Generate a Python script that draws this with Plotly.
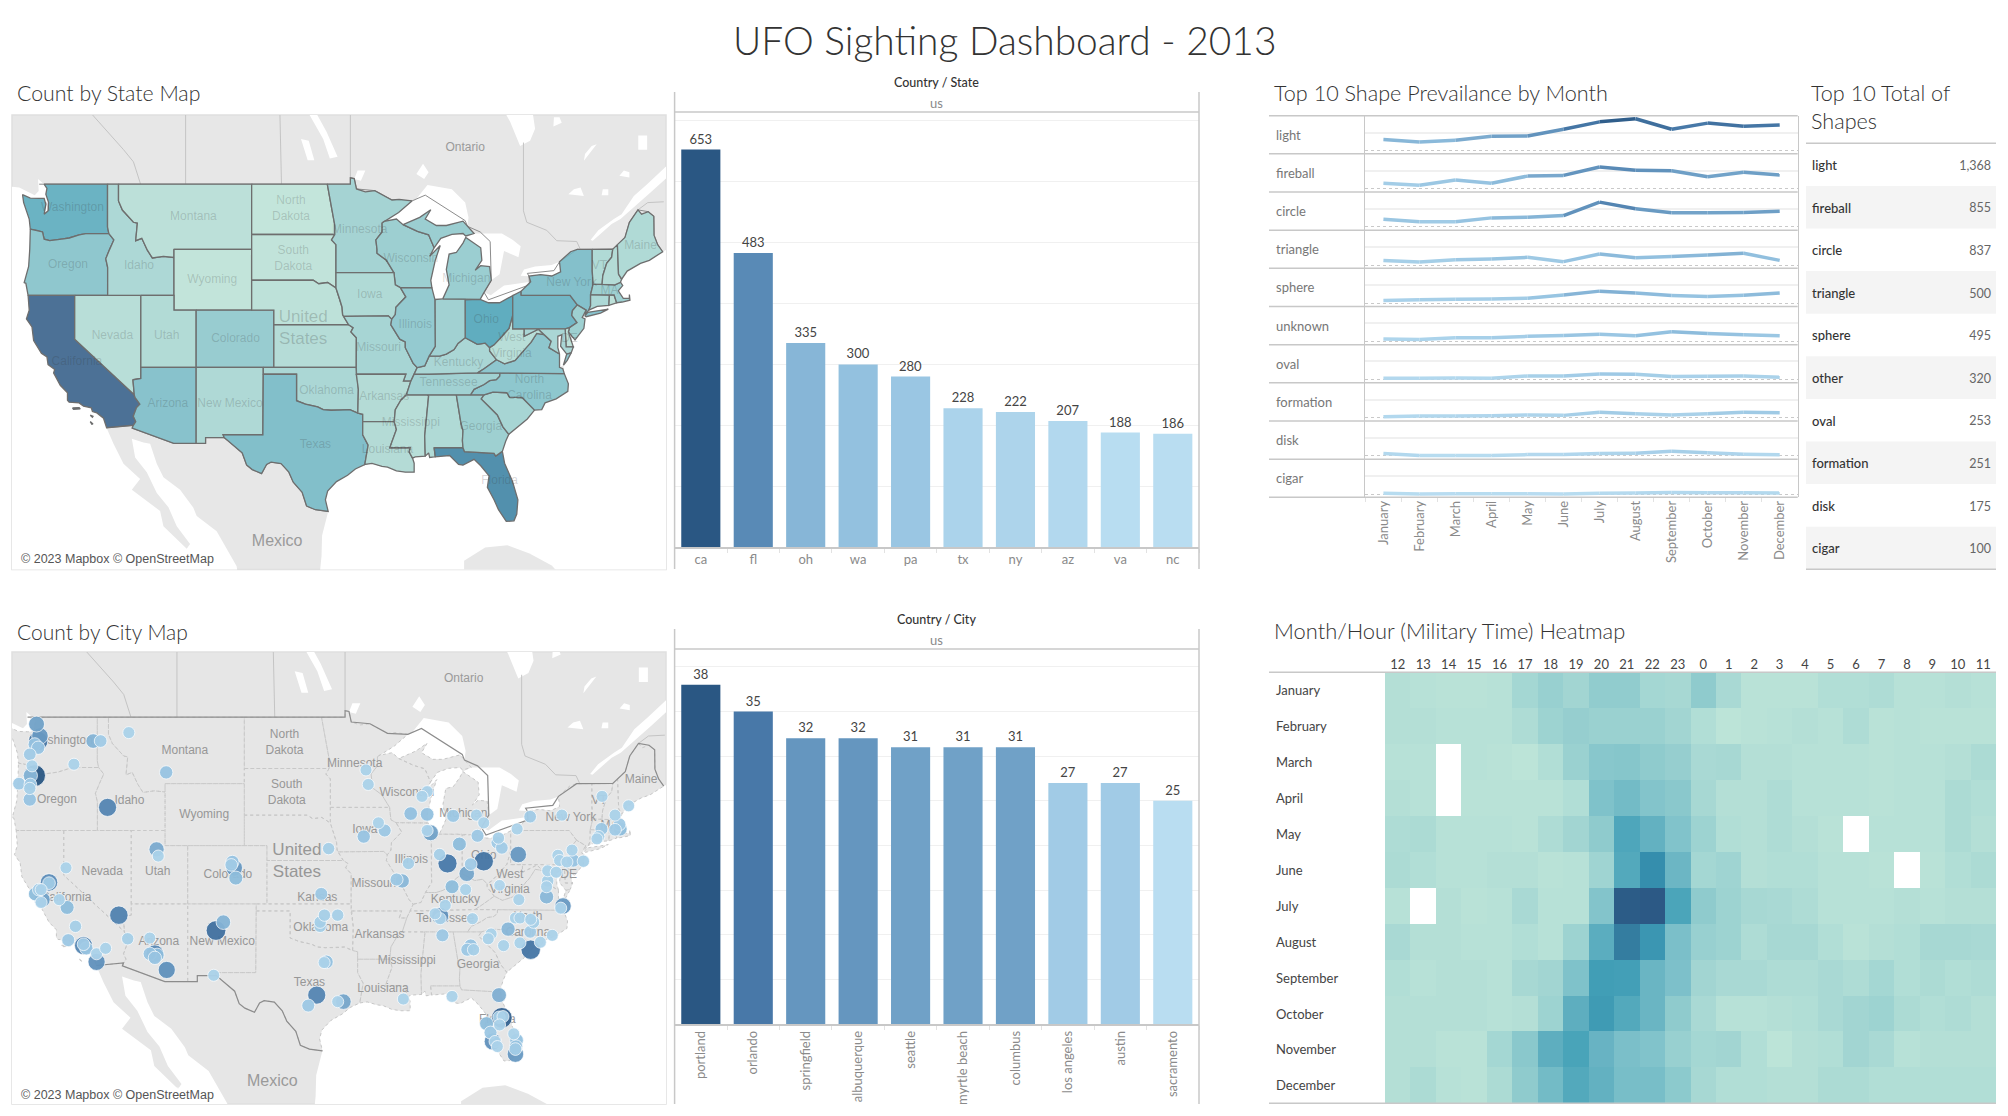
from math import log, tan, pi, radians, degrees

import plotly.graph_objects as go
from plotly.colors import sample_colorscale

W, H = 2008, 1116

# bars
state_names = ["ca", "fl", "oh", "wa", "pa", "tx", "ny", "az", "va", "nc"]
state_totals = [653, 483, 335, 300, 280, 228, 222, 207, 188, 186]
city_names = ["portland", "orlando", "springfield", "albuquerque", "seattle", "myrtle beach", "columbus",
              "los angeles", "austin", "sacramento"]
city_totals = [38, 35, 32, 32, 31, 31, 31, 27, 27, 25]

# shape lines
months = ["January", "February", "March", "April", "May", "June", "July", "August", "September", "October",
          "November", "December"]
shape_names = ["light", "fireball", "circle", "triangle", "sphere", "unknown", "oval", "formation", "disk", "cigar"]
shape_months = [
    [61, 48, 57, 80, 81, 118, 159, 176, 118, 152, 135, 142],
    [30, 19, 48, 31, 70, 74, 120, 102, 100, 67, 91, 76],
    [43, 28, 28, 50, 54, 63, 137, 100, 78, 78, 80, 87],
    [26, 17, 30, 33, 43, 19, 61, 41, 48, 56, 65, 26],
    [15, 20, 22, 24, 28, 46, 67, 56, 43, 37, 44, 56],
    [13, 11, 20, 20, 28, 33, 39, 31, 54, 44, 37, 31],
    [7, 7, 9, 7, 20, 20, 31, 30, 17, 19, 20, 13],
    [6, 9, 9, 11, 15, 13, 30, 22, 15, 22, 30, 28],
    [13, 2, 2, 2, 7, 7, 13, 15, 26, 17, 9, 6],
    [4, 0, 2, 2, 2, 0, 4, 6, 9, 7, 7, 6],
]

# table
table_names = ["light", "fireball", "circle", "triangle", "sphere", "other", "oval", "formation", "disk", "cigar"]
table_totals = ["1,368", "855", "837", "500", "495", "320", "253", "251", "175", "100"]

# heatmap, None where the reference has no cell
hours = ["12", "13", "14", "15", "16", "17", "18", "19", "20", "21", "22", "23", "0", "1", "2", "3", "4", "5", "6",
         "7", "8", "9", "10", "11"]
heat = [
    [6, 5, 4, 4, 5, 12, 17, 13, 20, 20, 12, 11, 21, 10, 4, 4, 4, 7, 7, 8, 5, 5, 6, 5],
    [6, 6, 5, 5, 5, 8, 15, 18, 16, 16, 16, 13, 7, 3, 4, 5, 6, 5, 8, 4, 5, 4, 4, 4],
    [5, 5, None, 5, 4, 2, 7, 16, 24, 25, 21, 18, 10, 11, 6, 6, 5, 5, 5, 4, 5, 5, 6, 9],
    [6, 5, None, 4, 4, 4, 4, 7, 28, 33, 26, 23, 11, 6, 6, 8, 5, 5, 5, 4, 5, 5, 9, 7],
    [8, 9, 5, 5, 5, 4, 8, 13, 21, 48, 40, 27, 15, 7, 6, 8, 6, 4, None, 5, 5, 5, 9, 6],
    [9, 7, 5, 5, 6, 6, 4, 5, 14, 46, 64, 36, 12, 14, 6, 7, 7, 5, 5, 4, None, 4, 7, 9],
    [5, None, 6, 4, 5, 10, 5, 5, 26, 98, 100, 49, 21, 15, 11, 10, 8, 5, 5, 5, 6, 5, 6, 6],
    [10, 6, 6, 5, 5, 7, 5, 15, 43, 75, 59, 30, 17, 15, 8, 11, 11, 7, 4, 6, 7, 11, 11, 10],
    [7, 5, 6, 6, 5, 11, 13, 28, 54, 53, 37, 29, 13, 10, 10, 8, 8, 10, 8, 12, 7, 9, 7, 8],
    [6, 6, 6, 6, 5, 6, 15, 42, 56, 46, 37, 21, 10, 5, 5, 6, 7, 10, 13, 15, 9, 7, 8, 6],
    [6, 6, 4, 4, 12, 23, 42, 50, 38, 30, 27, 17, 12, 13, 7, 3, 6, 7, 13, 10, 5, 6, 6, 6],
    [6, 9, 5, 4, 9, 21, 33, 46, 40, 31, 31, 22, 11, 7, 7, 6, 6, 9, 9, 7, 7, 7, 7, 7],
]

# sightings per state on the first map
state_counts = {
    "CA": 653, "FL": 483, "OH": 335, "WA": 300, "PA": 280, "TX": 228, "NY": 222, "AZ": 207, "VA": 188, "NC": 186,
    "OR": 185, "IL": 165, "CO": 150, "MI": 140, "WI": 135, "GA": 130, "MA": 130, "NJ": 130, "TN": 120, "IN": 120,
    "MN": 110, "MO": 100, "SC": 100, "KY": 90, "MD": 90, "OK": 85, "ID": 80, "CT": 80, "NM": 75, "IA": 70, "AL": 70,
    "ME": 70, "VT": 70, "UT": 65, "AR": 60, "LA": 60, "NH": 60, "KS": 55, "NV": 45, "MS": 45, "WV": 45, "MT": 35,
    "NE": 30, "RI": 30, "DE": 30, "SD": 20, "WY": 18, "ND": 15,
}

# city bubbles on the second map
city_lon = [-122.4, -122.26, -122.1, -122.56, -122.26, -123.0, -117.4, -116.74, -114.25, -119.1, -110.95, -122.57,
            -122.95, -122.8, -123.95, -122.95, -123.0, -123.0, -116.13, -111.8, -111.65, -104.94, -105.1, -104.8,
            -105.2, -119.8, -115.13, -121.3, -121.3, -122.2, -122.5, -121.9, -122.0, -122.0, -120.4, -119.7, -118.96,
            -119.6, -118.25, -118.25, -118.0, -117.1, -116.3, -117.1, -114.35, -111.95, -112.4, -111.95, -111.75,
            -112.4, -110.9, -106.55, -105.9, -106.75, -96.8, -97.0, -97.65, -98.4, -95.3, -95.8, -97.35, -97.35,
            -96.97, -95.8, -97.25, -96.6, -93.5, -91.65, -92.2, -93.3, -93.1, -89.35, -87.9, -87.9, -88.35, -87.6,
            -87.9, -89.55, -86.8, -90.6, -90.1, -86.1, -85.05, -85.6, -83.55, -82.9, -83.45, -81.6, -81.7, -81.3,
            -82.9, -84.05, -84.4, -85.7, -84.5, -81.5, -79.95, -78.8, -76.0, -72.45, -70.1, -71.3, -72.5, -70.9,
            -70.85, -71.3, -72.75, -72.9, -79.85, -75.1, -76.35, -76.2, -75.0, -74.1, -75.55, -77.25, -76.5, -77.25,
            -77.35, -77.35, -75.9, -76.1, -79.8, -86.75, -86.75, -87.2, -86.3, -83.9, -86.55, -80.75, -80.1, -79.7,
            -78.75, -78.5, -78.8, -76.85, -82.25, -82.5, -81.15, -79.7, -77.9, -78.75, -84.05, -84.35, -83.8, -85.7,
            -90.0, -81.55, -81.3, -81.55, -81.2, -81.5, -82.65, -82.3, -82.1, -81.9, -81.7, -80.25, -80.0, -80.05,
            -80.1, -80.1]
city_lat = [48.6, 47.6, 47.9, 47.4, 47.2, 46.8, 47.6, 47.6, 48.1, 46.2, 45.7, 45.5, 45.5, 46.1, 45.0, 44.95, 44.7,
            44.0, 43.5, 40.75, 40.3, 39.5, 39.9, 38.8, 39.7, 39.5, 36.2, 38.5, 38.45, 38.0, 37.7, 37.3, 38.0, 37.1,
            37.3, 36.75, 35.4, 34.4, 34.0, 34.1, 33.8, 33.4, 33.8, 32.8, 34.5, 33.4, 33.4, 33.1, 33.3, 34.55, 32.2,
            35.1, 35.7, 31.8, 32.8, 32.75, 30.3, 29.5, 29.8, 29.8, 35.4, 35.7, 36.2, 36.2, 37.7, 40.8, 41.6, 42.0,
            42.5, 45.85, 44.95, 43.1, 43.05, 44.5, 44.2, 41.85, 42.0, 39.8, 40.4, 38.7, 38.6, 39.8, 41.1, 42.95,
            43.0, 42.5, 41.65, 41.5, 41.2, 40.85, 39.95, 39.75, 39.1, 38.2, 38.0, 38.3, 42.1, 42.9, 43.0, 44.2, 43.6,
            43.0, 42.1, 42.4, 42.1, 42.05, 41.6, 41.45, 40.4, 40.7, 40.35, 40.0, 40.0, 39.95, 39.9, 39.3, 39.2, 38.6,
            38.2, 37.5, 36.85, 36.7, 37.3, 36.15, 35.95, 36.3, 36.9, 35.95, 34.75, 35.2, 36.0, 36.0, 35.9, 35.7, 35.0,
            34.75, 34.85, 34.5, 34.0, 34.2, 34.25, 33.7, 34.0, 33.7, 33.7, 30.2, 30.0, 30.3, 28.55, 28.6, 28.65, 28.0,
            28.1, 27.4, 26.7, 26.7, 26.3, 27.3, 26.8, 26.3, 25.7, 26.1]
city_count = [20, 31, 22, 12, 12, 10, 16, 10, 8, 8, 12, 38, 15, 8, 10, 10, 9, 12, 27, 18, 8, 22, 12, 14, 10, 8, 28,
              25, 10, 10, 14, 20, 8, 8, 8, 14, 9, 11, 27, 10, 12, 8, 8, 24, 9, 26, 12, 12, 14, 8, 24, 32, 16, 8, 13, 8,
              27, 11, 19, 8, 9, 9, 9, 9, 11, 9, 12, 11, 8, 8, 8, 13, 13, 8, 8, 20, 8, 9, 9, 11, 15, 30, 14, 11, 8, 8,
              11, 9, 10, 10, 31, 10, 19, 14, 8, 7, 8, 10, 8, 8, 8, 8, 11, 10, 14, 10, 9, 8, 22, 8, 8, 8, 12, 9, 8, 8,
              8, 9, 8, 15, 22, 8, 8, 24, 8, 8, 8, 8, 11, 15, 8, 8, 8, 9, 10, 8, 8, 8, 8, 8, 8, 31, 12, 11, 9, 8, 8, 17,
              35, 9, 8, 8, 14, 11, 24, 8, 8, 8, 13, 12, 22, 10]

# place names printed on the base map
place_names = ["Washington", "Oregon", "Idaho", "Montana", "Wyoming", "Nevada", "Utah", "Colorado", "Arizona",
               "New Mexico", "California", "North<br>Dakota", "South<br>Dakota", "Oklahoma", "Texas", "Minnesota",
               "Iowa", "Missouri", "Arkansas", "Louisiana", "Wisconsin", "Illinois", "Michigan", "Kentucky",
               "Tennessee", "Mississippi", "Georgia", "Florida", "Ohio", "West<br>Virginia", "North<br>Carolina",
               "New York", "Maine", "VT", "MA", "DE"]
place_lon = [-120.2, -120.6, -114.2, -109.3, -107.6, -116.6, -111.7, -105.5, -111.6, -106.0, -119.8, -100.5, -100.3,
             -97.3, -98.3, -94.3, -93.4, -92.6, -92.1, -91.8, -89.7, -89.3, -84.7, -85.4, -86.3, -89.7, -83.4, -81.7,
             -82.9, -80.6, -79.0, -75.2, -69.0, -72.7, -71.8, -75.4]
place_lat = [47.6, 44.0, 43.9, 47.0, 43.0, 39.2, 39.2, 39.0, 34.3, 34.3, 37.4, 47.5, 44.4, 35.3, 31.2, 46.2, 42.0,
             38.4, 34.8, 30.8, 44.4, 40.0, 43.1, 37.3, 35.9, 32.9, 32.6, 28.4, 40.3, 38.5, 35.5, 42.8, 45.2, 43.9,
             42.3, 39.0]

# coarse outlines, lon/lat, since the plot.ly topojson needs a network
state_shapes = {
    "WA": [(-122.76, 49), (-122.5, 48.75), (-122.6, 48.4), (-122.35, 47.9), (-122.4, 47.4), (-122.75, 47.2),
           (-122.6, 47.8), (-122.75, 48.15), (-123.2, 48.15), (-124, 48.17), (-124.7, 48.38), (-124.6, 47.9),
           (-124.1, 46.9), (-124, 46.27), (-123.4, 46.2), (-122.9, 46.1), (-122.75, 45.65), (-122.25, 45.55),
           (-121.2, 45.65), (-120.5, 45.72), (-119.6, 45.92), (-119, 46), (-116.92, 46), (-117.04, 46.4),
           (-117.04, 49)],
    "OR": [(-124, 46.27), (-123.4, 46.2), (-122.9, 46.1), (-122.75, 45.65), (-122.25, 45.55), (-121.2, 45.65),
           (-120.5, 45.72), (-119.6, 45.92), (-119, 46), (-116.92, 46), (-116.47, 45.6), (-116.85, 45),
           (-117.2, 44.4), (-117.03, 43.85), (-117.03, 42), (-124.2, 42), (-124.4, 42.8), (-124.55, 42.84),
           (-124.15, 43.9), (-124.05, 45), (-123.95, 46.2)],
    "CA": [(-124.2, 42), (-120, 42), (-120, 39), (-114.63, 35), (-114.57, 34.8), (-114.13, 34.3), (-114.43, 34.05),
           (-114.72, 33.4), (-114.5, 33), (-114.72, 32.72), (-117.12, 32.53), (-117.25, 32.85), (-117.4, 33.25),
           (-118, 33.65), (-118.4, 33.75), (-118.5, 34.03), (-119.2, 34.15), (-119.6, 34.4), (-120.5, 34.45),
           (-120.65, 34.6), (-120.65, 35.15), (-121.3, 35.7), (-121.9, 36.6), (-121.8, 36.85), (-122.4, 37.2),
           (-122.5, 37.75), (-123, 38), (-123.7, 38.9), (-123.85, 39.85), (-124.35, 40.4), (-124.1, 41)],
    "CA_isle1": [(-120.2, 34.02), (-119.6, 34.05), (-119.5, 33.95), (-120.1, 33.92)],
    "CA_isle2": [(-118.6, 33.48), (-118.35, 33.4), (-118.4, 33.33), (-118.6, 33.42)],
    "CA_isle3": [(-118.6, 33.0), (-118.35, 32.82), (-118.45, 32.8)],
    "NV": [(-120, 42), (-114.04, 42), (-114.04, 36.2), (-114.75, 36.1), (-114.63, 35), (-120, 39)],
    "ID": [(-117.04, 49), (-116.05, 49), (-116.05, 48), (-115.7, 47.45), (-114.7, 46.7), (-114.35, 46.65),
           (-114.5, 45.55), (-113.95, 45.7), (-113.45, 44.95), (-113, 44.45), (-112, 44.55), (-111.05, 44.48),
           (-111.05, 42), (-117.03, 42), (-117.03, 43.85), (-117.2, 44.4), (-116.85, 45), (-116.47, 45.6),
           (-116.92, 46), (-117.04, 46.4)],
    "MT": [(-116.05, 49), (-104.05, 49), (-104.05, 45), (-111.05, 45), (-111.05, 44.48), (-112, 44.55), (-113, 44.45),
           (-113.45, 44.95), (-113.95, 45.7), (-114.5, 45.55), (-114.35, 46.65), (-114.7, 46.7), (-115.7, 47.45),
           (-116.05, 48)],
    "WY": [(-111.05, 45), (-104.05, 45), (-104.05, 41), (-111.05, 41)],
    "UT": [(-114.04, 42), (-111.05, 42), (-111.05, 41), (-109.05, 41), (-109.05, 37), (-114.04, 37)],
    "CO": [(-109.05, 41), (-102.05, 41), (-102.05, 37), (-109.05, 37)],
    "AZ": [(-114.75, 36.1), (-114.04, 36.2), (-114.04, 37), (-109.05, 37), (-109.05, 31.33), (-111.07, 31.33),
           (-114.82, 32.5), (-114.72, 32.72), (-114.5, 33), (-114.72, 33.4), (-114.43, 34.05), (-114.13, 34.3),
           (-114.57, 34.8), (-114.63, 35)],
    "NM": [(-109.05, 37), (-103, 37), (-103.04, 32), (-106.62, 32), (-106.53, 31.78), (-108.2, 31.78),
           (-108.2, 31.33), (-109.05, 31.33)],
    "ND": [(-104.05, 49), (-97.23, 49), (-96.85, 47.6), (-96.55, 46.5), (-96.56, 45.94), (-104.05, 45.94)],
    "SD": [(-104.05, 45.94), (-96.56, 45.94), (-96.85, 45.6), (-96.45, 45.3), (-96.45, 43.5), (-96.45, 42.49),
           (-97.2, 42.85), (-98, 42.77), (-98.5, 43), (-104.05, 43)],
    "NE": [(-104.05, 43), (-98.5, 43), (-98, 42.77), (-97.2, 42.85), (-96.45, 42.49), (-96.1, 41.7), (-95.9, 41.2),
           (-95.85, 40.7), (-95.31, 40), (-102.05, 40), (-102.05, 41), (-104.05, 41)],
    "KS": [(-102.05, 40), (-95.31, 40), (-94.9, 39.8), (-95.1, 39.5), (-94.61, 39.1), (-94.62, 37), (-102.05, 37)],
    "OK": [(-103, 37), (-94.62, 37), (-94.43, 35.4), (-94.48, 33.64), (-95.2, 33.9), (-96, 33.85), (-96.9, 33.85),
           (-97.6, 33.9), (-98.1, 34.1), (-99.2, 34.3), (-100, 34.56), (-100, 36.5), (-103, 36.5)],
    "TX": [(-103, 36.5), (-100, 36.5), (-100, 34.56), (-99.2, 34.3), (-98.1, 34.1), (-97.6, 33.9), (-96.9, 33.85),
           (-96, 33.85), (-95.2, 33.9), (-94.48, 33.64), (-94.04, 33.55), (-94.04, 33), (-94.04, 32), (-93.55, 31.2),
           (-93.75, 30.3), (-93.85, 29.7), (-94.7, 29.35), (-95.4, 28.85), (-96.4, 28.35), (-97.2, 27.6),
           (-97.4, 26.9), (-97.15, 25.96), (-98.3, 26.1), (-99.1, 26.4), (-99.5, 27.5), (-100.3, 28.3),
           (-100.7, 29.1), (-101.4, 29.77), (-102.3, 29.88), (-102.7, 29.7), (-103.15, 28.98), (-104, 29.3),
           (-104.5, 29.65), (-104.9, 30.6), (-106, 31.4), (-106.53, 31.78), (-106.62, 32), (-103.04, 32)],
    "MN": [(-97.23, 49), (-95.15, 49), (-95.15, 49.38), (-94.8, 49.33), (-94.6, 48.72), (-93.8, 48.55),
           (-92.95, 48.62), (-92, 48.3), (-91.4, 48.06), (-90.75, 48.1), (-89.6, 48), (-90.8, 47.3), (-92.1, 46.75),
           (-92.29, 46.66), (-92.29, 46.1), (-92.85, 45.6), (-92.75, 45), (-92.75, 44.75), (-91.9, 44.3),
           (-91.22, 43.5), (-96.45, 43.5), (-96.45, 45.3), (-96.85, 45.6), (-96.56, 45.94), (-96.55, 46.5),
           (-96.85, 47.6)],
    "WI": [(-92.29, 46.66), (-92.1, 46.75), (-91, 46.9), (-90.4, 46.55), (-89.1, 46.13), (-88.1, 45.92), (-87.6, 45.1),
           (-88, 44.55), (-87.05, 45.25), (-87.5, 44.3), (-87.9, 43), (-87.8, 42.49), (-90.64, 42.51), (-91.1, 42.7),
           (-91.22, 43.5), (-91.9, 44.3), (-92.75, 44.75), (-92.75, 45), (-92.85, 45.6), (-92.29, 46.1)],
    "IA": [(-96.45, 43.5), (-91.22, 43.5), (-91.1, 42.7), (-90.64, 42.51), (-90.15, 41.9), (-91.05, 41.2),
           (-91.1, 40.7), (-91.42, 40.38), (-91.73, 40.61), (-95.77, 40.58), (-95.85, 40.7), (-95.9, 41.2),
           (-96.1, 41.7), (-96.45, 42.49)],
    "MO": [(-95.77, 40.58), (-91.73, 40.61), (-91.42, 40.38), (-91.5, 40), (-90.7, 39), (-90.2, 38.8), (-90.2, 38.4),
           (-89.5, 37.3), (-89.13, 36.98), (-89.4, 36.5), (-89.7, 36), (-90.37, 36), (-90.15, 36.5), (-94.62, 36.5),
           (-94.62, 37), (-94.61, 39.1), (-95.1, 39.5), (-94.9, 39.8), (-95.31, 40)],
    "AR": [(-94.62, 36.5), (-90.15, 36.5), (-90.37, 36), (-89.7, 36), (-90.1, 35), (-90.6, 34.6), (-91.1, 33.9),
           (-91.2, 33), (-94.04, 33), (-94.04, 33.55), (-94.48, 33.64), (-94.43, 35.4)],
    "LA": [(-94.04, 33), (-91.2, 33), (-91, 32.4), (-91.6, 31), (-89.75, 31), (-89.85, 30.67), (-89.55, 30.2),
           (-89.4, 29.8), (-89.4, 29.1), (-90.2, 29.1), (-91, 29.2), (-91.8, 29.5), (-92.3, 29.55), (-93.2, 29.78),
           (-93.85, 29.7), (-93.75, 30.3), (-93.55, 31.2), (-94.04, 32)],
    "MS": [(-90.1, 35), (-88.2, 35), (-88.1, 34.9), (-88.45, 31.9), (-88.4, 30.35), (-89.3, 30.3), (-89.55, 30.2),
           (-89.85, 30.67), (-89.75, 31), (-91.6, 31), (-91, 32.4), (-91.2, 33), (-91.1, 33.9), (-90.6, 34.6)],
    "AL": [(-88.2, 35), (-85.6, 35), (-85.18, 32.87), (-85, 32.3), (-85.05, 31.55), (-85, 31), (-87.6, 31),
           (-87.5, 30.3), (-88, 30.25), (-88.1, 30.6), (-88.4, 30.35), (-88.45, 31.9), (-88.1, 34.9)],
    "FL": [(-87.6, 31), (-85, 31), (-84.86, 30.7), (-82.2, 30.57), (-82.05, 30.36), (-81.45, 30.72), (-81.25, 29.8),
           (-80.55, 28.4), (-80.05, 26.9), (-80.15, 25.75), (-80.4, 25.2), (-81.1, 25.15), (-81.8, 26.1),
           (-82.2, 26.9), (-82.8, 27.9), (-82.65, 28.8), (-83.4, 29.6), (-84, 30.1), (-85, 29.65), (-85.4, 29.7),
           (-86.2, 30.4), (-87.5, 30.3)],
    "GA": [(-85.6, 35), (-83.1, 35), (-83.35, 34.7), (-82.75, 34.2), (-81.9, 33.5), (-81.4, 32.6), (-80.87, 32.03),
           (-81.15, 31.5), (-81.45, 30.72), (-82.05, 30.36), (-82.2, 30.57), (-84.86, 30.7), (-85, 31),
           (-85.05, 31.55), (-85, 32.3), (-85.18, 32.87)],
    "SC": [(-83.1, 35), (-82.3, 35.2), (-81.05, 35.15), (-80.8, 34.82), (-79.67, 34.8), (-78.55, 33.86), (-79.2, 33.2),
           (-79.9, 32.7), (-80.87, 32.03), (-81.4, 32.6), (-81.9, 33.5), (-82.75, 34.2), (-83.35, 34.7)],
    "NC": [(-84.32, 35), (-83.1, 35), (-82.3, 35.2), (-81.05, 35.15), (-80.8, 34.82), (-79.67, 34.8), (-78.55, 33.86),
           (-77.9, 33.9), (-77.6, 34.4), (-76.6, 34.7), (-75.55, 35.25), (-75.5, 35.8), (-75.87, 36.55),
           (-81.68, 36.59), (-81.7, 36.35), (-82, 36.1), (-82.6, 36.03), (-83.1, 35.75), (-84, 35.4)],
    "TN": [(-90.1, 35), (-84.32, 35), (-84, 35.4), (-83.1, 35.75), (-82.6, 36.03), (-82, 36.1), (-81.7, 36.35),
           (-81.68, 36.59), (-83.68, 36.6), (-88.05, 36.5), (-89.4, 36.5), (-89.7, 36)],
    "KY": [(-89.13, 36.98), (-89.4, 36.5), (-88.05, 36.5), (-83.68, 36.6), (-83.1, 36.9), (-81.97, 37.54),
           (-82.6, 38.17), (-82.6, 38.4), (-83, 38.72), (-83.7, 38.63), (-84.8, 39.1), (-85.45, 38.7), (-85.8, 38.27),
           (-86.5, 37.95), (-87.1, 37.8), (-88.05, 37.8), (-88.45, 37.1)],
    "VA": [(-83.68, 36.6), (-81.68, 36.59), (-75.87, 36.55), (-76, 36.9), (-76.3, 37), (-76.3, 37.95), (-76.95, 38.3),
           (-77.25, 38.4), (-77.05, 38.85), (-77.72, 39.32), (-78.35, 39.4), (-78.87, 38.77), (-79.3, 38.42),
           (-80.3, 37.5), (-81.25, 37.25), (-81.97, 37.54), (-83.1, 36.9)],
    "WV": [(-81.97, 37.54), (-81.25, 37.25), (-80.3, 37.5), (-79.3, 38.42), (-78.87, 38.77), (-78.35, 39.4),
           (-77.72, 39.32), (-78.2, 39.69), (-79.48, 39.2), (-79.48, 39.72), (-80.52, 39.72), (-80.52, 40.64),
           (-80.85, 39.75), (-81.7, 39), (-82.2, 38.6), (-82.6, 38.4), (-82.6, 38.17)],
    "OH": [(-84.81, 41.7), (-83.45, 41.73), (-82.7, 41.5), (-81.7, 41.5), (-80.52, 41.98), (-80.52, 40.64),
           (-80.85, 39.75), (-81.7, 39), (-82.2, 38.6), (-82.6, 38.4), (-83, 38.72), (-83.7, 38.63), (-84.8, 39.1)],
    "IN": [(-87.53, 41.72), (-86.82, 41.76), (-84.81, 41.76), (-84.8, 39.1), (-85.45, 38.7), (-85.8, 38.27),
           (-86.5, 37.95), (-87.1, 37.8), (-88.05, 37.8), (-87.5, 38.5), (-87.53, 39.35)],
    "IL": [(-90.64, 42.51), (-87.8, 42.49), (-87.53, 41.72), (-87.53, 39.35), (-87.5, 38.5), (-88.05, 37.8),
           (-88.45, 37.1), (-89.13, 36.98), (-89.5, 37.3), (-90.2, 38.4), (-90.2, 38.8), (-90.7, 39), (-91.5, 40),
           (-91.42, 40.38), (-91.1, 40.7), (-91.05, 41.2), (-90.15, 41.9)],
    "MI": [(-86.82, 41.76), (-84.81, 41.76), (-83.45, 41.73), (-83.1, 42.2), (-82.45, 43), (-82.6, 43.9),
           (-83.4, 43.95), (-83.9, 43.65), (-83.3, 44.3), (-83.4, 45.1), (-84.75, 45.75), (-85, 45.4), (-85.6, 44.8),
           (-86.25, 44.7), (-86.5, 43.7), (-86.25, 42.7)],
    "MI_upper": [(-90.4, 46.55), (-89.1, 46.13), (-88.1, 45.92), (-87.6, 45.1), (-87, 45.7), (-86, 45.95), (-85, 46),
                 (-84.75, 45.85), (-84, 46), (-84.6, 46.45), (-85, 46.77), (-86.5, 46.5), (-87.4, 46.5),
                 (-88.4, 46.9), (-87.9, 47.47), (-88.9, 47)],
    "PA": [(-80.52, 41.98), (-79.76, 42.27), (-79.76, 42), (-75.35, 42), (-74.7, 41.36), (-75.13, 40.97),
           (-75.2, 40.65), (-74.72, 40.15), (-75.4, 39.8), (-75.79, 39.72), (-79.48, 39.72), (-80.52, 39.72)],
    "NY": [(-79.76, 42), (-75.35, 42), (-74.7, 41.36), (-73.9, 41), (-74, 40.7), (-73.66, 41), (-73.5, 41.3),
           (-73.5, 42.05), (-73.27, 42.75), (-73.35, 43.6), (-73.35, 45), (-74.7, 45), (-75.3, 44.85), (-76.3, 44.2),
           (-76.2, 43.55), (-77, 43.28), (-78, 43.37), (-79.05, 43.27), (-78.9, 42.9), (-79.76, 42.27)],
    "NY_island": [(-74.03, 40.6), (-73.75, 40.85), (-72.6, 40.98), (-71.9, 41.07), (-72.6, 40.8), (-73.9, 40.55)],
    "NJ": [(-74.7, 41.36), (-73.9, 41), (-74.25, 40.5), (-74, 40.4), (-74.1, 39.75), (-74.9, 38.95), (-75.5, 39.5),
           (-75.4, 39.8), (-74.72, 40.15), (-75.2, 40.65), (-75.13, 40.97)],
    "DE": [(-75.79, 39.72), (-75.4, 39.8), (-75.5, 39.5), (-75.05, 38.45), (-75.7, 38.46)],
    "MD": [(-79.48, 39.72), (-75.79, 39.72), (-75.7, 38.46), (-75.05, 38.45), (-75.25, 38.03), (-75.65, 37.95),
           (-76.2, 38.5), (-76.1, 39.3), (-76.45, 39.2), (-76.45, 38.4), (-76.3, 37.95), (-76.95, 38.3),
           (-77.25, 38.4), (-77.05, 38.85), (-77.72, 39.32), (-78.2, 39.69), (-79.48, 39.2)],
    "VA_shore": [(-75.95, 37.15), (-75.65, 37.95), (-75.25, 38.03), (-75.6, 37.5)],
    "CT": [(-73.66, 41), (-73.5, 41.3), (-73.5, 42.05), (-71.8, 42.02), (-71.85, 41.32), (-72.9, 41.25)],
    "RI": [(-71.8, 42.02), (-71.38, 42.02), (-71.15, 41.5), (-71.85, 41.32)],
    "MA": [(-73.5, 42.05), (-73.27, 42.75), (-71.3, 42.7), (-70.8, 42.87), (-70.6, 42.65), (-71, 42.3), (-70.55, 41.8),
           (-70, 41.8), (-70, 42.05), (-69.95, 41.67), (-70.65, 41.55), (-71.15, 41.5), (-71.38, 42.02),
           (-71.8, 42.02)],
    "VT": [(-73.35, 45), (-71.5, 45.01), (-71.6, 44.5), (-72.05, 44.1), (-72.4, 43.3), (-72.46, 42.73), (-73.27, 42.75),
           (-73.35, 43.6)],
    "NH": [(-71.5, 45.01), (-71.08, 45.3), (-70.98, 43.4), (-70.7, 43.07), (-70.8, 42.87), (-71.3, 42.7),
           (-72.46, 42.73), (-72.4, 43.3), (-72.05, 44.1), (-71.6, 44.5)],
    "ME": [(-71.08, 45.3), (-70.4, 45.75), (-70, 46.7), (-69.23, 47.46), (-68.9, 47.2), (-68.3, 47.35), (-67.8, 47.07),
           (-67.78, 45.9), (-67.45, 45.3), (-67, 44.85), (-68.2, 44.3), (-69, 44.1), (-70.2, 43.6), (-70.7, 43.07),
           (-70.98, 43.4)],
}

water_shapes = [
    # pacific and gulf of california
    [(-130, 49.2), (-125, 48.8), (-123.6, 48.35), (-123.25, 48.6), (-123.3, 49.3), (-122.76, 49), (-122.5, 48.75),
     (-122.6, 48.4), (-122.35, 47.9), (-122.4, 47.4), (-122.75, 47.2), (-122.6, 47.8), (-122.75, 48.15),
     (-123.2, 48.15), (-124, 48.17), (-124.7, 48.38), (-124.6, 47.9), (-124.1, 46.9), (-124, 46.27), (-123.95, 46.2),
     (-124.05, 45), (-124.15, 43.9), (-124.55, 42.84), (-124.4, 42.8), (-124.2, 42), (-124.1, 41), (-124.35, 40.4),
     (-123.85, 39.85), (-123.7, 38.9), (-123, 38), (-122.5, 37.75), (-122.4, 37.2), (-121.8, 36.85), (-121.9, 36.6),
     (-121.3, 35.7), (-120.65, 35.15), (-120.65, 34.6), (-120.5, 34.45), (-119.6, 34.4), (-119.2, 34.15),
     (-118.5, 34.03), (-118.4, 33.75), (-118, 33.65), (-117.4, 33.25), (-117.25, 32.85), (-117.1, 32.47),
     (-116.5, 31.3), (-115.6, 29.75), (-114.1, 28.55), (-114.85, 27.7), (-112.3, 26), (-112, 24.75), (-109.9, 22.9),
     (-109.6, 23.3), (-110.8, 24.75), (-111.55, 26.3), (-112.6, 27.45), (-113.5, 29.1), (-114.55, 30.25),
     (-114.85, 31.7), (-113.8, 31.4), (-113.2, 31.3), (-112.6, 29.75), (-112, 28.7), (-110.5, 27.7), (-109.3, 26.25),
     (-109, 25.6), (-107.2, 24.35), (-105.4, 21.45), (-105.2, 20), (-130, 20)],
    # gulf and atlantic
    [(-98, 20), (-97.75, 22.3), (-97.7, 24), (-97.15, 25.96), (-97.4, 26.9), (-97.2, 27.6), (-96.4, 28.35),
     (-95.4, 28.85), (-94.7, 29.35), (-93.85, 29.7), (-93.2, 29.78), (-92.3, 29.55), (-91.8, 29.5), (-91, 29.2),
     (-90.2, 29.1), (-89.4, 29.1), (-89.4, 29.8), (-89.55, 30.2), (-89.3, 30.3), (-88.4, 30.35), (-88.1, 30.6),
     (-88, 30.25), (-87.5, 30.3), (-86.2, 30.4), (-85.4, 29.7), (-85, 29.65), (-84, 30.1), (-83.4, 29.6),
     (-82.65, 28.8), (-82.8, 27.9), (-82.2, 26.9), (-81.8, 26.1), (-81.1, 25.15), (-80.4, 25.2), (-80.15, 25.75),
     (-80.05, 26.9), (-80.55, 28.4), (-81.25, 29.8), (-81.45, 30.72), (-81.15, 31.5), (-80.87, 32.03), (-79.9, 32.7),
     (-79.2, 33.2), (-78.55, 33.86), (-77.9, 33.9), (-77.6, 34.4), (-76.6, 34.7), (-75.55, 35.25), (-75.5, 35.8),
     (-75.87, 36.55), (-75.95, 37.15), (-75.25, 38.03), (-75.05, 38.45), (-75.5, 39.5), (-74.9, 38.95), (-74.1, 39.75),
     (-74, 40.4), (-74.25, 40.5), (-74, 40.7), (-73.66, 41), (-72.9, 41.25), (-71.85, 41.32), (-71.15, 41.5),
     (-70.65, 41.55), (-69.95, 41.67), (-70, 42.05), (-70, 41.8), (-70.55, 41.8), (-71, 42.3), (-70.6, 42.65),
     (-70.8, 42.87), (-70.7, 43.07), (-70.2, 43.6), (-69, 44.1), (-68.2, 44.3), (-67, 44.85), (-66, 45.2),
     (-64.8, 45.7), (-64, 45.7), (-64, 20)],
    # chesapeake
    [(-76.3, 37), (-75.95, 37.15), (-75.65, 37.95), (-76.2, 38.5), (-76.1, 39.3), (-76.45, 39.2), (-76.45, 38.4),
     (-76.3, 37.95)],
    # great lakes
    [(-92.1, 46.75), (-91, 46.9), (-90.4, 46.55), (-88.9, 47), (-87.9, 47.47), (-88.4, 46.9), (-87.4, 46.5),
     (-86.5, 46.5), (-85, 46.77), (-84.6, 46.45), (-84.5, 47), (-84.8, 47.9), (-86, 48.7), (-88.2, 48.95),
     (-89.3, 48.05), (-89.6, 48), (-90.8, 47.3)],
    [(-87.8, 42.49), (-87.53, 41.72), (-87.2, 41.65), (-86.82, 41.76), (-86.25, 42.7), (-86.5, 43.7), (-86.25, 44.7),
     (-85.6, 44.8), (-85, 45.4), (-84.75, 45.75), (-85, 46), (-86, 45.95), (-87, 45.7), (-87.6, 45.1), (-88, 44.55),
     (-87.5, 44.3), (-87.9, 43)],
    [(-84.75, 45.75), (-83.4, 45.1), (-83.3, 44.3), (-83.9, 43.65), (-83.4, 43.95), (-82.6, 43.9), (-82.45, 43),
     (-81.7, 43.4), (-81.3, 44.9), (-80, 44.5), (-79.8, 45.2), (-80.5, 45.6), (-81.5, 46), (-84, 46)],
    [(-83.45, 41.73), (-82.7, 41.5), (-81.7, 41.5), (-80.52, 41.98), (-79.76, 42.27), (-78.9, 42.9), (-80, 42.8),
     (-81.3, 42.65), (-82.5, 42), (-83.1, 42.2)],
    [(-79.05, 43.27), (-78, 43.37), (-77, 43.28), (-76.2, 43.55), (-76.3, 44.2), (-77, 44), (-78.5, 43.9), (-79.5, 43.7),
     (-79.8, 43.3)],
    # canadian lakes, james bay and the st lawrence
    [(-82.1, 54), (-80.75, 52.55), (-79.85, 51.2), (-78.95, 51.5), (-78.5, 52.17), (-78.95, 54)],
    [(-97, 50.5), (-96.3, 50.6), (-97.3, 52), (-98.2, 53), (-98.9, 53), (-97.6, 51.6)],
    [(-99, 50.4), (-98.4, 50.4), (-98.9, 51.5), (-99.6, 51.6)],
    [(-94.8, 49.3), (-94.2, 49.2), (-93.8, 49.8), (-94.5, 49.8)],
    [(-89.2, 49.6), (-88.5, 49.3), (-88.1, 49.7), (-88.6, 50.2)],
    [(-74.1, 50.37), (-72.95, 51.3), (-73.4, 51.2), (-74, 50.75)],
    [(-69.2, 51), (-68.4, 51), (-68.4, 51.8), (-69.2, 51.8)],
    [(-76.85, 52.3), (-76.1, 52.5), (-76.3, 52.8), (-76.8, 52.8)],
    [(-70.9, 49.5), (-70, 49.4), (-70, 49.7), (-70.5, 49.8)],
    [(-75.5, 48.4), (-74.1, 48.3), (-74.4, 48.8), (-75, 48.7)],
    [(-72.5, 48.35), (-71.9, 48.35), (-71.9, 48.7), (-72.4, 48.7)],
    [(-64, 49.9), (-66.6, 50.1), (-68.4, 49), (-69.6, 48.3), (-70.7, 47.2), (-71.4, 46.9), (-72.8, 46.2), (-73.5, 45.6),
     (-73.3, 45.55), (-71.6, 46.6), (-70.8, 46.9), (-69.6, 47.6), (-68.1, 48.5), (-66.6, 49.4), (-64, 49.2)],
]

# land on top of the gulf of mexico polygon
cuba_shape = [(-84.9, 21.9), (-83, 23), (-81, 23.2), (-79, 22.5), (-77, 21.5), (-76, 20.5), (-84.9, 20.5)]

province_lines = [
    [(-114.06, 49), (-114.7, 50.3), (-115.6, 51), (-117, 52), (-118.5, 53)],
    [(-110, 49), (-110, 53)],
    [(-101.36, 49), (-101.5, 53)],
    [(-95.15, 49.38), (-95.15, 53)],
    [(-79.55, 51.4), (-79.55, 47.4), (-79.25, 46.7), (-77.45, 46.2), (-76.55, 45.55), (-74.75, 45.5), (-74.45, 45.05)],
    [(-69.23, 47.46), (-68.35, 47.9), (-66.9, 47.95)],
]
border_lines = [
    [(-123.2, 49), (-95.15, 49), (-95.15, 49.38), (-94.8, 49.33), (-94.6, 48.72), (-92.95, 48.62), (-91.4, 48.06),
     (-89.6, 48), (-88.4, 48.35), (-84.8, 46.8), (-84.6, 46.45), (-83.45, 46.1), (-82.55, 45.5), (-82.45, 43.4),
     (-82.45, 43), (-83.1, 42.2), (-82.7, 41.7), (-79, 42.7), (-79.05, 43.27), (-79.2, 43.45), (-76.8, 43.63),
     (-76.3, 44.2), (-74.7, 45), (-71.5, 45.01), (-71.08, 45.3), (-70.4, 45.75), (-70, 46.7), (-69.23, 47.46),
     (-68.3, 47.35), (-67.8, 47.07), (-67.78, 45.9), (-67.45, 45.3), (-67, 44.85)],
    [(-117.12, 32.53), (-114.72, 32.72), (-114.82, 32.5), (-111.07, 31.33), (-108.2, 31.33), (-108.2, 31.78),
     (-106.53, 31.78), (-106, 31.4), (-104.9, 30.6), (-104.5, 29.65), (-104, 29.3), (-103.15, 28.98), (-102.7, 29.7),
     (-102.3, 29.88), (-101.4, 29.77), (-100.7, 29.1), (-100.3, 28.3), (-99.5, 27.5), (-99.1, 26.4), (-98.3, 26.1),
     (-97.15, 25.96)],
]

TEAL = ["#bce4d8", "#aedcd5", "#a1d5d2", "#95cecf", "#89c8cc", "#7ec1ca", "#72bac6", "#66b2c2", "#59acbe", "#4ba5ba",
        "#419eb6", "#3b96b2", "#358ead", "#3586a7", "#347ea1", "#32779b", "#316f96", "#2f6790", "#2d608a", "#2c5985"]
BLUE = ["#b9ddf1", "#92c0df", "#6a9bc3", "#4a7bab", "#2a5783"]
LAND = "#e7e7e7"
RULE = "#c8c8c8"
GRID = "#f0f0f0"
FONT = "Lato"


def merc(lat):
    return degrees(log(tan(pi / 4 + radians(lat) / 2)))


def dom_x(x0, x1):
    return [x0 / W, x1 / W]


def dom_y(y0, y1):
    return [1 - y1 / H, 1 - y0 / H]


def unpack(polys):
    xs, ys = [], []
    for poly in polys:
        closed = list(poly) + [poly[0]]
        xs += [p[0] for p in closed] + [None]
        ys += [merc(p[1]) for p in closed] + [None]
    return xs, ys


def unpack_lines(lines):
    xs, ys = [], []
    for line in lines:
        xs += [p[0] for p in line] + [None]
        ys += [merc(p[1]) for p in line] + [None]
    return xs, ys


def blue(t):
    return sample_colorscale(BLUE, [min(max(t, 0), 1)])[0]


def teal_rgba(t, alpha):
    rgb = sample_colorscale(TEAL, [t], colortype="tuple")[0]
    return "rgba(%d,%d,%d,%.2f)" % (rgb[0] * 255, rgb[1] * 255, rgb[2] * 255, alpha)


fig = go.Figure()
shapes = []
notes = []


def hline(y, x0, x1, color=RULE):
    shapes.append(dict(type="line", xref="paper", yref="paper", x0=x0 / W, x1=x1 / W, y0=1 - y / H, y1=1 - y / H,
                       line=dict(color=color, width=1.5)))


def vline(x, y0, y1, color=RULE):
    shapes.append(dict(type="line", xref="paper", yref="paper", x0=x / W, x1=x / W, y0=1 - y0 / H, y1=1 - y1 / H,
                       line=dict(color=color, width=1.5)))


def text_at(x, y, text, size=12, color="#444", xanchor="left", weight=400, family=FONT, **kw):
    notes.append(dict(text=text, xref="paper", yref="paper", x=x / W, y=1 - y / H, showarrow=False, xanchor=xanchor,
                      yanchor="middle", font=dict(family=family, size=size, color=color, weight=weight), align="left",
                      borderpad=0, **kw))


def draw_base(xa, ya, land):
    xs, ys = unpack(water_shapes)
    fig.add_scatter(x=xs, y=ys, xaxis=xa, yaxis=ya, mode="lines", fill="toself", fillcolor="#ffffff",
                    line=dict(width=0), hoverinfo="skip")
    xs, ys = unpack([cuba_shape])
    fig.add_scatter(x=xs, y=ys, xaxis=xa, yaxis=ya, mode="lines", fill="toself", fillcolor=land,
                    line=dict(width=0), hoverinfo="skip")
    xs, ys = unpack_lines(province_lines)
    fig.add_scatter(x=xs, y=ys, xaxis=xa, yaxis=ya, mode="lines", line=dict(color="#c4c4c4", width=1),
                    hoverinfo="skip")
    shapes.append(dict(type="rect", xref=xa + " domain", yref=ya + " domain", x0=0, x1=1, y0=0, y1=1, layer="below",
                       fillcolor=land, line=dict(color="#e0e0e0", width=1.5)))


# map 1: filled states
draw_base("x", "y", LAND)
xs, ys = unpack_lines(border_lines)
fig.add_scatter(x=xs, y=ys, xaxis="x", yaxis="y", mode="lines", line=dict(color="#8c8c8c", width=1),
                hoverinfo="skip")
count_min, count_max = min(state_counts.values()), max(state_counts.values())
for key, poly in state_shapes.items():
    t = (state_counts[key[:2]] - count_min) / (count_max - count_min)
    xs, ys = unpack([poly])
    fig.add_scatter(x=xs, y=ys, xaxis="x", yaxis="y", mode="lines", fill="toself",
                    fillcolor=teal_rgba(t, 0.83), line=dict(color="#6e6e6e", width=1.3), hoverinfo="skip")
fig.add_scatter(x=place_lon, y=[merc(v) for v in place_lat], text=place_names, xaxis="x", yaxis="y", mode="text",
                textfont=dict(family="Liberation Sans", size=12, color="rgba(50,50,50,0.2)"), hoverinfo="skip")
fig.add_scatter(x=[-99.4], y=[merc(39.7)], text=["United<br>States"], xaxis="x", yaxis="y", mode="text",
                textfont=dict(family="Liberation Sans", size=17, color="rgba(50,50,50,0.22)"), hoverinfo="skip")
fig.add_scatter(x=[-84.8, -101.75], y=[merc(51.1), merc(23.5)], text=["Ontario", "Mexico"], xaxis="x", yaxis="y",
                mode="text", textfont=dict(family="Liberation Sans", size=[12, 16], color="#9a9a9a"), hoverinfo="skip")

# map 2: gray states under city bubbles
draw_base("x3", "y3", "#e6e6e6")
xs, ys = unpack(list(state_shapes.values()))
fig.add_scatter(x=xs, y=ys, xaxis="x3", yaxis="y3", mode="lines", fill="toself", fillcolor="#e6e6e6",
                line=dict(color="#c8c8c8", width=1, dash="dot"), hoverinfo="skip")
xs, ys = unpack_lines(border_lines)
fig.add_scatter(x=xs, y=ys, xaxis="x3", yaxis="y3", mode="lines", line=dict(color="#8c8c8c", width=1.2),
                hoverinfo="skip")
fig.add_scatter(x=place_lon + [-97.6], y=[merc(v) for v in place_lat] + [merc(37.4)], text=place_names + ["Kansas"],
                xaxis="x3", yaxis="y3", mode="text",
                textfont=dict(family="Liberation Sans", size=12, color="#979797"), hoverinfo="skip")
fig.add_scatter(x=[-99.4], y=[merc(39.9)], text=["United<br>States"], xaxis="x3", yaxis="y3", mode="text",
                textfont=dict(family="Liberation Sans", size=17, color="#979797"), hoverinfo="skip")
fig.add_scatter(x=[-84.67, -101.57], y=[merc(51.15), merc(23.5)], text=["Ontario", "Mexico"], xaxis="x3", yaxis="y3",
                mode="text", textfont=dict(family="Liberation Sans", size=[12, 16], color="#9a9a9a"), hoverinfo="skip")

order = sorted(range(len(city_count)), key=lambda i: -city_count[i])
fig.add_scatter(x=[city_lon[i] for i in order], y=[merc(city_lat[i]) for i in order], xaxis="x3", yaxis="y3",
                mode="markers",
                marker=dict(size=[9.5 + 0.32 * city_count[i] for i in order],
                            color=[city_count[i] for i in order], cmin=5, cmax=38,
                            colorscale=[[i / 4, c] for i, c in enumerate(BLUE)], opacity=0.95,
                            line=dict(color="rgba(255,255,255,0.75)", width=1)),
                hoverinfo="skip")

# bars
for xa, ya, names, totals in [("x2", "y2", state_names, state_totals), ("x4", "y4", city_names, city_totals)]:
    low, high = min(totals), max(totals)
    fig.add_bar(x=names, y=totals, xaxis=xa, yaxis=ya, width=0.746, text=totals, textposition="outside",
                cliponaxis=False, textfont=dict(family=FONT, size=13, color="#444"),
                marker=dict(color=totals, colorscale=[[i / 4, c] for i, c in enumerate(BLUE)], cmin=low, cmax=high,
                            line=dict(width=0)), hoverinfo="skip")

# shape lines, one trace per segment so the colour can follow the value
for row, (name, values) in enumerate(zip(shape_names, shape_months)):
    ya = "y%d" % (5 + row)
    for i in range(11):
        t = (values[i] + values[i + 1]) / 2 / 176
        fig.add_scatter(x=months[i:i + 2], y=values[i:i + 2], xaxis="x5", yaxis=ya, mode="lines",
                        line=dict(color=blue(t), width=3.5), hoverinfo="skip")

# table
for i in range(1, 10, 2):
    shapes.append(dict(type="rect", xref="x15 domain", yref="y15", x0=0, x1=1, y0=i - 0.5, y1=i + 0.5,
                       fillcolor="#f4f4f4", line=dict(width=0), layer="below"))
fig.add_scatter(x=[0.032] * 10, y=[i + 0.05 for i in range(10)], text=table_names, xaxis="x15", yaxis="y15",
                mode="text", textposition="middle right",
                textfont=dict(family=FONT, size=13, color="#333", weight=500), cliponaxis=False, hoverinfo="skip")
fig.add_scatter(x=[0.974] * 10, y=[i + 0.05 for i in range(10)], text=table_totals, xaxis="x15", yaxis="y15",
                mode="text", textposition="middle left", textfont=dict(family=FONT, size=12.5, color="#666"),
                cliponaxis=False, hoverinfo="skip")

# heatmap
fig.add_heatmap(z=heat, x=hours, y=months, xaxis="x16", yaxis="y16", zmin=3, zmax=100,
                colorscale=[[i / 19, c] for i, c in enumerate(TEAL)], showscale=False, hoverinfo="skip")

hidden = dict(visible=False, fixedrange=True)
# layout numbers below are pixels of the dashboard
layout = dict(
    width=W, height=H, margin=dict(l=0, r=0, t=0, b=0, autoexpand=False), showlegend=False, plot_bgcolor="white",
    paper_bgcolor="white", bargap=0.254, font=dict(family=FONT),
    xaxis=dict(domain=dom_x(12, 666), range=[-125.65, -66.7], **hidden),
    yaxis=dict(domain=dom_y(115, 569.5), range=[21.67, 62.6], anchor="x", **hidden),
    xaxis3=dict(domain=dom_x(12, 666), range=[-124.57, -66.8], anchor="y3", **hidden),
    yaxis3=dict(domain=dom_y(652, 1104), range=[22.2, 62.13], anchor="x3", **hidden),
)
for n, y0, y1, top, step in [(2, 112, 547, 714.7, 100), (4, 649, 1024, 42, 5)]:
    layout["xaxis%d" % n] = dict(domain=dom_x(674.6, 1199), anchor="y%d" % n, type="category", showline=True,
                                 linecolor=RULE, linewidth=1.5, tickson="boundaries", ticks="outside", ticklen=4,
                                 tickcolor="#e2e2e2", showgrid=False, fixedrange=True,
                                 tickfont=dict(family=FONT, size=13, color="#8a8a8a"),
                                 tickangle=0 if n == 2 else -90)
    layout["yaxis%d" % n] = dict(domain=dom_y(y0, y1), anchor="x%d" % n, range=[0, top], dtick=step, showgrid=True,
                                 gridcolor=GRID, gridwidth=1, showticklabels=False, zeroline=False, fixedrange=True)

# line panels
panel_top, panel_h = 115.7, 38.16
layout["xaxis5"] = dict(domain=dom_x(1365.4, 1797.7), anchor="y14", type="category", categoryorder="array",
                        categoryarray=months, range=[-0.5, 11.5], tickson="boundaries", ticks="outside", ticklen=4,
                        tickcolor="#e2e2e2", tickangle=-90, showgrid=False, fixedrange=True,
                        tickfont=dict(family=FONT, size=13, color="#8a8a8a"))
for row, name in enumerate(shape_names):
    y0 = panel_top + row * panel_h
    layout["yaxis%d" % (5 + row)] = dict(domain=dom_y(y0, y0 + panel_h), anchor="x5", range=[-18, 193],
                                         tickvals=[100], showticklabels=False, gridcolor=GRID, gridwidth=1.5,
                                         zeroline=False, fixedrange=True, showline=True, mirror=True, linecolor=RULE,
                                         linewidth=1, minor=dict(tickvals=[0], showgrid=True, griddash="dot",
                                                                 gridcolor="#c9c9c9", gridwidth=1))
    hline(y0, 1269, 1797.7)
    text_at(1275, y0 + 19, name, size=13, color="#777")
hline(panel_top + 10 * panel_h, 1269, 1797.7)

# table and heatmap axes
layout["xaxis15"] = dict(domain=dom_x(1806, 1996), range=[0, 1], anchor="y15", **hidden)
layout["yaxis15"] = dict(domain=dom_y(143.3, 569.3), range=[9.5, -0.5], anchor="x15", **hidden)
hline(143.3, 1806, 1996)
hline(569.3, 1806, 1996)
layout["xaxis16"] = dict(domain=dom_x(1385, 1996), anchor="y16", side="top", type="category", ticks="", showline=False,
                         showgrid=False, fixedrange=True, tickfont=dict(family=FONT, size=13, color="#444"))
layout["yaxis16"] = dict(domain=dom_y(672.3, 1103.3), anchor="x16", type="category", autorange="reversed",
                         showticklabels=False, ticks="", showgrid=False, zeroline=False, fixedrange=True)
hline(672.3, 1269, 1996)
hline(1103.3, 1269, 1996)
for i, m in enumerate(months):
    text_at(1275, 672.3 + (i + 0.5) * 35.92, m, size=13, color="#444")

# frames and headers of the bar panels
for top, head, bottom, label, mid in [(92, 112, 569, "Country / State", 103), (629, 649, 1104, "Country / City", 640)]:
    vline(674.6, top, bottom)
    vline(1199, top, bottom)
    hline(head, 674.6, 1199)
    text_at(936.8, top - 9.5, label, size=12.5, color="#333", xanchor="center", weight=500)
    text_at(936.8, mid, "us", size=13, color="#8a8a8a", xanchor="center")

text_at(1004, 40, "UFO Sighting Dashboard - 2013", size=38.9, color="#333", xanchor="center", weight=300)
text_at(16, 93, "Count by State Map", size=21.3, color="#333", weight=300)
text_at(16, 631, "Count by City Map", size=21, color="#333", weight=300)
text_at(1273, 93, "Top 10 Shape Prevailance by Month", size=21.6, color="#333", weight=300)
text_at(1273, 630, "Month/Hour (Military Time) Heatmap", size=21.9, color="#333", weight=300)
text_at(1810, 107, "Top 10 Total of<br>Shapes", size=21.6, color="#333", weight=300)
text_at(19.5, 559, "© 2023 Mapbox © OpenStreetMap", size=12.5, color="#555", family="Liberation Sans",
        bgcolor="rgba(255,255,255,0.6)")
text_at(19.5, 1095, "© 2023 Mapbox © OpenStreetMap", size=12.5, color="#555", family="Liberation Sans",
        bgcolor="rgba(255,255,255,0.6)")

fig.update_layout(**layout, shapes=shapes, annotations=notes)
fig.write_html("out.html", post_script="document.body.style.margin='0';", config={"displayModeBar": False})
